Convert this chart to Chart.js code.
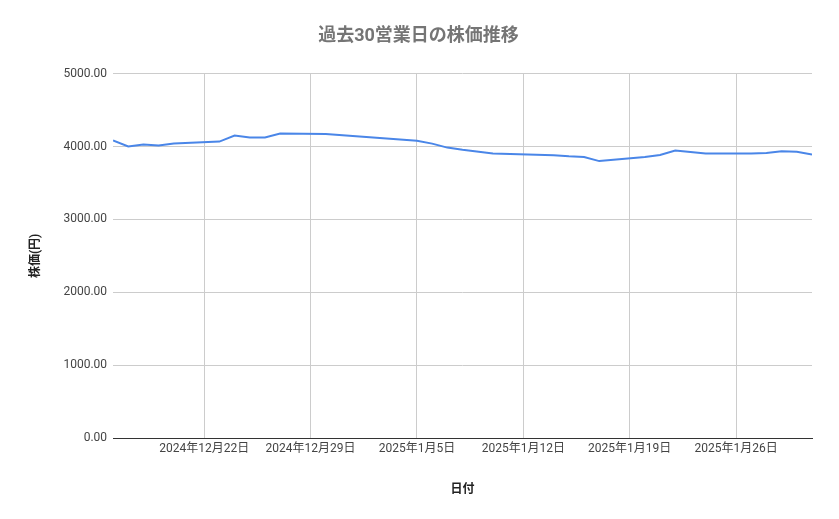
<!DOCTYPE html>
<html><head><meta charset="utf-8">
<script src="https://cdn.jsdelivr.net/npm/chart.js@4"></script>
<style>html,body{margin:0;padding:0;background:#fff}#w{width:839px;height:519px}</style>
</head><body><div id="w"><canvas id="c"></canvas></div>
<script>
const dates = ["2024-12-16","2024-12-17","2024-12-18","2024-12-19","2024-12-20","2024-12-23","2024-12-24","2024-12-25","2024-12-26","2024-12-27","2024-12-30","2025-01-05","2025-01-06","2025-01-07","2025-01-08","2025-01-10","2025-01-14","2025-01-15","2025-01-16","2025-01-17","2025-01-20","2025-01-21","2025-01-22","2025-01-23","2025-01-24","2025-01-27","2025-01-28","2025-01-29","2025-01-30","2025-01-31"];
const prices = [4082,4000,4027,4014,4041,4068,4150,4123,4123,4178,4172,4078,4040,3985,3955,3905,3880,3865,3855,3800,3855,3885,3945,3925,3905,3905,3912,3935,3928,3960].slice(0,29).concat([3890]);
const tickDates = ["2024-12-22","2024-12-29","2025-01-05","2025-01-12","2025-01-19","2025-01-26"];
const yTicks = [0,1000,2000,3000,4000,5000];
const base = Date.UTC(2024,11,16);
const day = s => { const [y,m,d] = s.split('-').map(Number); return (Date.UTC(y,m-1,d)-base)/86400000; };
const fmt = v => { const t = new Date(base + v*86400000); return t.getUTCFullYear()+'年'+(t.getUTCMonth()+1)+'月'+t.getUTCDate()+'日'; };
const F = "Roboto, 'Noto Sans CJK JP', sans-serif";
new Chart(document.getElementById('c'), {
  type: 'line',
  data: { datasets: [{ data: dates.map((d,i)=>({x:day(d), y:prices[i]})), borderColor:'#4a86e8', borderWidth:2, pointRadius:0, tension:0 }] },
  options: {
    responsive:true, maintainAspectRatio:false, animation:false,
    layout:{ padding:{ left:25, right:27, top:10, bottom:18 } },
    plugins:{ legend:{display:false}, tooltip:{enabled:false},
      title:{ display:true, text:'過去30営業日の株価推移', color:'#757575', font:{family:F, size:18, weight:'bold'}, padding:{top:16, bottom:26} } },
    scales:{
      x:{ type:'linear', min:0, max:46,
        afterBuildTicks: a => { a.ticks = tickDates.map(d=>({value:day(d)})); },
        ticks:{ callback: v => fmt(v), color:'#444', font:{family:F, size:12}, maxRotation:0, autoSkip:false, padding:4 },
        grid:{ color:'#cccccc', drawTicks:false }, border:{ display:true, color:'#333', width:1 },
        title:{ display:true, text:'日付', color:'#222', font:{family:F, size:12, weight:'bold'}, padding:{top:22} } },
      y:{ min:0, max:5000,
        afterBuildTicks: a => { a.ticks = yTicks.map(v=>({value:v})); },
        ticks:{ callback: v => v.toFixed(2), color:'#444', font:{family:F, size:12}, padding:6 },
        grid:{ color:'#cccccc', drawTicks:false }, border:{ display:false },
        title:{ display:true, text:'株価(円)', color:'#222', font:{family:F, size:12, weight:'bold'}, padding:{bottom:14} } }
    }
  }
});
</script></body></html>
